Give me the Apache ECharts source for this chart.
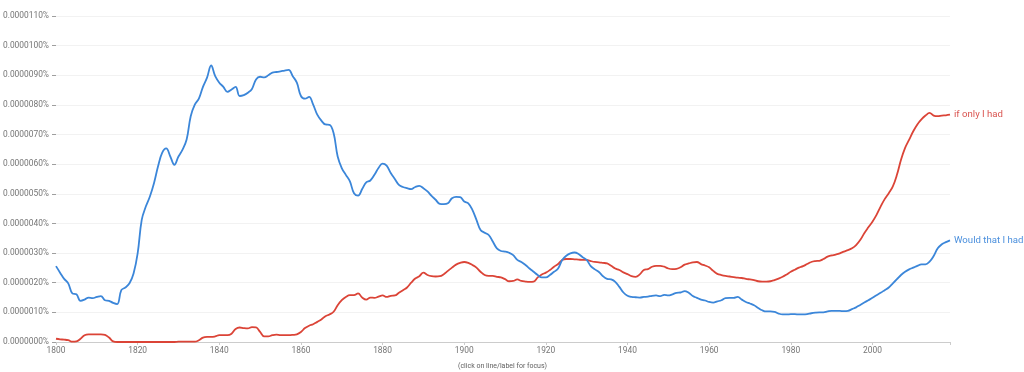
<!DOCTYPE html>
<html>
<head>
<meta charset="utf-8">
<script src="https://cdn.jsdelivr.net/npm/echarts@6/dist/echarts.min.js"></script>
<style>
html,body{margin:0;padding:0;background:#fff;}
#chart{width:1024px;height:372px;}
</style>
</head>
<body>
<div id="chart"></div>
<script>
// Values in units of 0.000001 %
const startYear = 1800;
const endYear = 2019;
const seriesNames = ["if only I had", "Would that I had"];
const xTickLabels = [1800, 1820, 1840, 1860, 1880, 1900, 1920, 1940, 1960, 1980, 2000];

const ifOnlyIHad = [
  0.11, 0.09, 0.08, 0.06, 0.01, 0.02, 0.11, 0.23, 0.26, 0.26,
  0.26, 0.26, 0.24, 0.15, 0.02, 0.00, 0.00, 0.00, 0.00, 0.00,
  0.00, 0.00, 0.00, 0.00, 0.00, 0.00, 0.00, 0.00, 0.00, 0.00,
  0.01, 0.01, 0.01, 0.01, 0.01, 0.06, 0.15, 0.17, 0.17, 0.19,
  0.23, 0.23, 0.23, 0.28, 0.44, 0.49, 0.47, 0.46, 0.50, 0.49,
  0.34, 0.19, 0.19, 0.23, 0.25, 0.23, 0.23, 0.23, 0.24, 0.26,
  0.34, 0.47, 0.55, 0.60, 0.68, 0.76, 0.87, 0.93, 1.02, 1.24,
  1.41, 1.52, 1.58, 1.58, 1.64, 1.50, 1.43, 1.50, 1.49, 1.53,
  1.57, 1.52, 1.56, 1.57, 1.66, 1.75, 1.84, 2.00, 2.14, 2.22,
  2.34, 2.26, 2.22, 2.21, 2.22, 2.29, 2.40, 2.51, 2.61, 2.67,
  2.70, 2.67, 2.60, 2.51, 2.37, 2.26, 2.23, 2.23, 2.20, 2.18,
  2.12, 2.05, 2.06, 2.11, 2.06, 2.04, 2.03, 2.04, 2.18, 2.28,
  2.34, 2.43, 2.54, 2.63, 2.77, 2.80, 2.80, 2.79, 2.78, 2.77,
  2.77, 2.73, 2.70, 2.69, 2.67, 2.65, 2.57, 2.48, 2.43, 2.35,
  2.29, 2.22, 2.20, 2.28, 2.43, 2.46, 2.54, 2.57, 2.57, 2.54,
  2.48, 2.46, 2.47, 2.52, 2.61, 2.65, 2.69, 2.70, 2.63, 2.58,
  2.52, 2.40, 2.30, 2.26, 2.23, 2.21, 2.19, 2.17, 2.16, 2.13,
  2.11, 2.09, 2.05, 2.04, 2.04, 2.05, 2.09, 2.14, 2.20, 2.28,
  2.37, 2.44, 2.51, 2.56, 2.63, 2.70, 2.73, 2.74, 2.80, 2.88,
  2.92, 2.95, 2.99, 3.05, 3.10, 3.16, 3.27, 3.44, 3.67, 3.87,
  4.06, 4.29, 4.57, 4.82, 5.02, 5.25, 5.64, 6.15, 6.55, 6.83,
  7.11, 7.34, 7.51, 7.64, 7.73, 7.64, 7.62, 7.64, 7.65, 7.67
];

const wouldThatIHad = [
  2.56, 2.34, 2.13, 1.98, 1.64, 1.61, 1.39, 1.43, 1.50, 1.48,
  1.52, 1.55, 1.41, 1.39, 1.32, 1.28, 1.75, 1.84, 1.98, 2.31,
  2.99, 4.12, 4.57, 4.91, 5.36, 5.93, 6.38, 6.53, 6.26, 5.98,
  6.26, 6.49, 6.83, 7.62, 8.01, 8.21, 8.61, 8.92, 9.33, 8.97,
  8.75, 8.61, 8.44, 8.52, 8.61, 8.30, 8.33, 8.41, 8.54, 8.86,
  8.95, 8.93, 9.00, 9.09, 9.11, 9.13, 9.16, 9.18, 8.97, 8.75,
  8.30, 8.21, 8.27, 8.01, 7.67, 7.47, 7.34, 7.33, 7.05, 6.26,
  5.87, 5.64, 5.42, 5.02, 4.94, 5.16, 5.39, 5.45, 5.64, 5.87,
  6.02, 5.95, 5.70, 5.50, 5.30, 5.23, 5.19, 5.16, 5.23, 5.27,
  5.19, 5.08, 4.93, 4.80, 4.66, 4.65, 4.68, 4.85, 4.90, 4.89,
  4.74, 4.68, 4.46, 4.12, 3.78, 3.69, 3.61, 3.39, 3.16, 3.07,
  3.05, 3.01, 2.93, 2.77, 2.70, 2.60, 2.48, 2.37, 2.26, 2.18,
  2.18, 2.26, 2.37, 2.48, 2.77, 2.91, 2.99, 3.02, 2.97, 2.86,
  2.77, 2.56, 2.45, 2.36, 2.22, 2.13, 2.11, 2.03, 1.86, 1.67,
  1.56, 1.52, 1.51, 1.50, 1.52, 1.53, 1.56, 1.57, 1.55, 1.59,
  1.57, 1.61, 1.66, 1.67, 1.72, 1.66, 1.55, 1.49, 1.43, 1.40,
  1.35, 1.33, 1.37, 1.41, 1.48, 1.49, 1.49, 1.52, 1.43, 1.35,
  1.30, 1.24, 1.15, 1.07, 1.03, 1.03, 1.02, 0.96, 0.93, 0.93,
  0.94, 0.94, 0.93, 0.93, 0.94, 0.97, 0.99, 1.00, 1.00, 1.03,
  1.05, 1.05, 1.05, 1.04, 1.05, 1.11, 1.17, 1.25, 1.33, 1.41,
  1.49, 1.58, 1.66, 1.75, 1.84, 1.98, 2.12, 2.26, 2.37, 2.45,
  2.51, 2.57, 2.62, 2.62, 2.71, 2.90, 3.16, 3.30, 3.37, 3.43
];

const toPairs = arr => arr.map((v, i) => [startYear + i, v]);

const RED = '#db4437';
const BLUE = '#3b86d9';
const FONT = 'Roboto';

const chart = echarts.init(document.getElementById('chart'), null, {renderer: 'canvas'});
chart.setOption({
  animation: false,
  backgroundColor: '#fff',
  grid: {left: 56, right: 74, top: 16, bottom: 30, containLabel: false},
  xAxis: {
    type: 'value',
    min: startYear,
    max: endYear,
    interval: 20,
    axisLine: {show: true, lineStyle: {color: '#cccccc', width: 1}},
    axisTick: {show: true, length: 3, lineStyle: {color: '#cccccc'}},
    axisLabel: {
      color: '#757575', fontFamily: FONT, fontSize: 8.4, margin: 5,
      formatter: v => (xTickLabels.indexOf(v) >= 0 ? String(v) : '')
    },
    splitLine: {show: false}
  },
  yAxis: {
    type: 'value',
    min: 0,
    max: 11,
    interval: 1,
    axisLine: {show: false},
    axisTick: {show: true, inside: false, length: 4, lineStyle: {color: '#9e9e9e'}},
    axisLabel: {
      color: '#757575', fontFamily: FONT, fontSize: 8.4, margin: 7,
      formatter: v => (v / 1e6).toFixed(7) + '%'
    },
    splitLine: {show: true, lineStyle: {color: '#f2f2f2', width: 1}}
  },
  graphic: [{
    type: 'text',
    left: 458,
    top: 363,
    style: {text: '(click on line/label for focus)', fill: '#616161', font: '7px Roboto'}
  }],
  series: [
    {
      name: seriesNames[0],
      type: 'line',
      data: toPairs(ifOnlyIHad),
      smooth: 0.4,
      showSymbol: false,
      lineStyle: {color: RED, width: 1.8},
      itemStyle: {color: RED},
      endLabel: {show: true, formatter: seriesNames[0], color: '#d9534f', fontFamily: FONT, fontSize: 9.6, distance: 4}
    },
    {
      name: seriesNames[1],
      type: 'line',
      data: toPairs(wouldThatIHad),
      smooth: 0.4,
      showSymbol: false,
      lineStyle: {color: BLUE, width: 1.8},
      itemStyle: {color: BLUE},
      endLabel: {show: true, formatter: seriesNames[1], color: '#4a8fdd', fontFamily: FONT, fontSize: 9.6, distance: 4}
    }
  ]
});
</script>
</body>
</html>
